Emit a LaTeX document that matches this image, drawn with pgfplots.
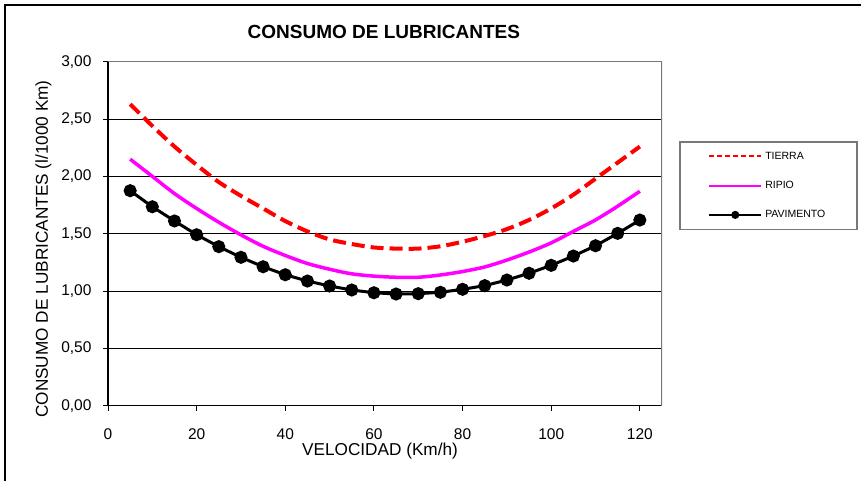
\documentclass[border=0pt]{standalone}
\usepackage{pgfplots}
\pgfplotsset{compat=1.18}
\usepackage{fontspec}
\setmainfont{Liberation Sans}

\definecolor{framegray}{RGB}{120,120,120}
\definecolor{ripio}{RGB}{255,0,255}

\begin{document}
\begin{tikzpicture}
  % page = 861 x 481 px, 1px = 1pt
  \path[use as bounding box] (0pt,0pt) rectangle (861pt,481pt);
  % outer chart frame (only top and left visible)
  \draw[black, line width=2pt] (4.5pt,-5pt) -- (4.5pt,476pt) -- (870pt,476pt);

  \begin{axis}[
      at={(108pt,75.3pt)}, anchor=south west,
      scale only axis,
      width=554pt, height=344pt,
      xmin=0, xmax=125, ymin=0, ymax=3,
      xtick={0,20,...,120},
      ytick={0,0.5,...,3},
      axis lines=left,
      axis line style={-, black, line width=1.5pt},
      tick align=outside,
      major tick length=5pt,
      tick style={black, line width=1pt},
      ymajorgrids,
      major grid style={black, line width=0.9pt},
      /pgf/number format/assume math mode=true,
      yticklabel style={/pgf/number format/fixed, /pgf/number format/fixed zerofill,
        /pgf/number format/precision=2, /pgf/number format/use comma, xshift=-8pt},
      ticklabel style={font=\fontsize{15.5}{16}\selectfont},
      xticklabel style={yshift=-14pt},
      title={\textbf{CONSUMO DE LUBRICANTES}},
      title style={at={(axis description cs:0.498,1.0486)}, anchor=base, font=\fontsize{19}{19}\selectfont},
      xlabel={VELOCIDAD (Km/h)},
      xlabel style={at={(axis description cs:0.491,-0.146)}, anchor=base, font=\fontsize{17.2}{18}\selectfont},
      ylabel={CONSUMO DE LUBRICANTES (l/1000 Km)},
      ylabel style={at={(axis description cs:-0.1083,0.4555)}, anchor=base, rotate=0, font=\fontsize{17.2}{18}\selectfont},
      legend style={
        at={(axis description cs:1.0307,0.769)}, anchor=north west,
        draw=framegray, line width=1.5pt,
        inner xsep=28.5pt, inner ysep=7pt,
        nodes={inner sep=3pt},
        row sep=14.5pt,
        font=\fontsize{10.5}{11}\selectfont,
      },
      legend cell align=left,
      legend image code/.code={
        \draw[mark repeat=2, mark phase=2, #1] plot coordinates {(0pt,0pt) (26pt,0pt) (52pt,0pt)};
      },
    ]

    % TIERRA
    \addplot[red, line width=4pt, dash pattern=on 13pt off 6pt, smooth, forget plot] coordinates {
      (5,2.63) (10,2.44) (15,2.26) (20,2.10) (25,1.95) (30,1.83) (35,1.72)
      (40,1.61) (45,1.52) (50,1.45) (55,1.41) (60,1.38) (65,1.37) (70,1.37)
      (75,1.39) (80,1.43) (85,1.48) (90,1.54) (95,1.62) (100,1.72) (105,1.84)
      (110,1.98) (115,2.12) (120,2.26)
    };
    % RIPIO
    \addplot[ripio, line width=3.5pt, smooth, forget plot] coordinates {
      (5,2.15) (10,2.00) (15,1.85) (20,1.72) (25,1.60) (30,1.49) (35,1.39)
      (40,1.31) (45,1.24) (50,1.19) (55,1.15) (60,1.13) (65,1.12) (70,1.12)
      (75,1.14) (80,1.17) (85,1.21) (90,1.27) (95,1.34) (100,1.42) (105,1.52)
      (110,1.62) (115,1.74) (120,1.87)
    };
    % PAVIMENTO
    \addplot[black, line width=3pt, mark=*, mark size=5pt, forget plot] coordinates {
      (5,1.875) (10,1.735) (15,1.611) (20,1.491) (25,1.387) (30,1.294) (35,1.212)
      (40,1.142) (45,1.087) (50,1.044) (55,1.009) (60,0.985) (65,0.974) (70,0.977)
      (75,0.989) (80,1.015) (85,1.047) (90,1.096) (95,1.155) (100,1.224) (105,1.305)
      (110,1.395) (115,1.503) (120,1.619)
    };

    \addlegendimage{red, line width=2pt, dash pattern=on 5pt off 3pt}
    \addlegendentry{TIERRA}
    \addlegendimage{ripio, line width=2pt}
    \addlegendentry{RIPIO}
    \addlegendimage{black, line width=2pt, mark=*, mark size=3pt}
    \addlegendentry{PAVIMENTO}

    % grey top and right border of the plot area
    \draw[framegray, line width=1.5pt] (rel axis cs:0,1) -- (rel axis cs:1,1) -- (rel axis cs:1,0);
  \end{axis}
\end{tikzpicture}
\end{document}
